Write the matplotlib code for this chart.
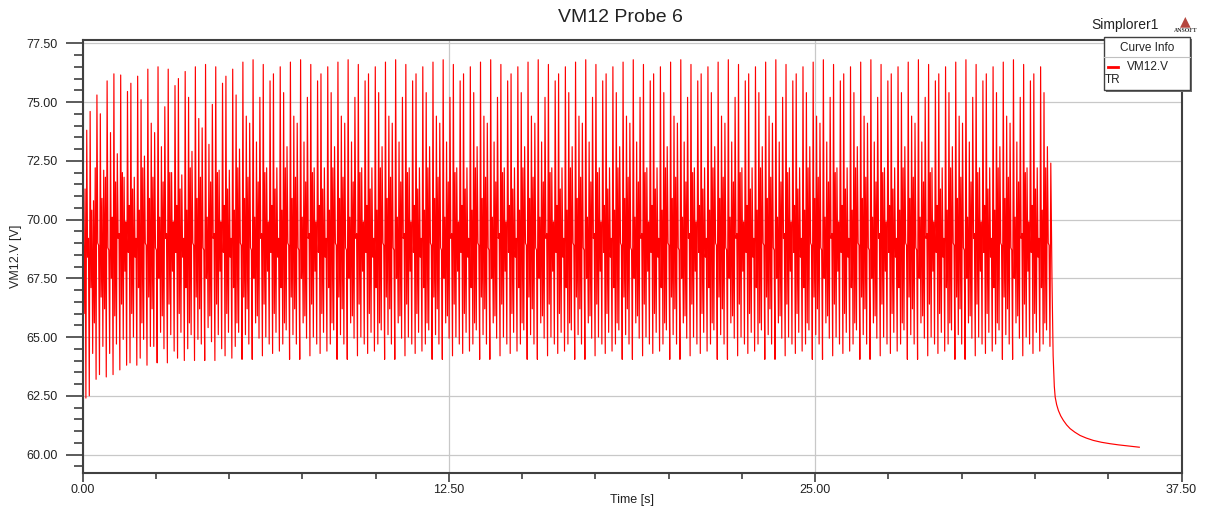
import numpy as np
import matplotlib
matplotlib.use("Agg")
import matplotlib.pyplot as plt
from matplotlib.patches import Rectangle
from matplotlib.lines import Line2D
from matplotlib.ticker import MultipleLocator, FormatStrFormatter

plt.rcParams["font.family"] = ["Liberation Sans", "DejaVu Sans"]

# ============================
# DATA
# ============================
# start-up: spike tops and the trough just before each spike [V]
EARLY_PEAKS = [69.3, 73.8, 74.6, 70.8, 75.3, 74.5, 72.1, 75.9, 73.7, 76.2,
               72.8, 76.15, 71.8, 75.45, 75.8, 71.8, 76.1, 75.1, 72.7, 76.4,
               74.1, 73.7, 76.5, 73.1, 74.8, 76.4, 72.0, 75.7, 76.0, 71.9,
               76.3, 75.2, 72.9, 76.5, 74.3, 73.9, 76.6, 73.2, 74.9, 76.5,
               72.1, 75.8, 76.1, 72.1, 76.4, 75.3, 73.0]
EARLY_TROUGHS = [60.0, 62.4, 62.5, 64.3, 63.2, 63.4, 64.6, 63.3, 64.3, 63.4,
                 64.7, 63.6, 64.9, 63.8, 63.9, 65.0, 63.8, 64.1, 64.9, 63.8,
                 64.6, 64.6, 63.9, 65.2, 64.5, 63.9, 65.1, 64.4, 64.1, 65.2,
                 64.0, 64.5, 65.1, 64.0, 64.9, 64.7, 64.0, 65.4, 64.8, 64.0,
                 65.1, 64.5, 64.2, 65.2, 64.1, 64.6, 65.2]

# steady state: one beat of the ripple (14 spikes, ~1.63 s), it repeats
BEAT_PEAKS = [76.7, 74.4, 74.1, 76.8, 73.3, 75.2, 76.6,
              72.2, 75.9, 76.2, 72.2, 76.5, 75.4, 73.1]
BEAT_TROUGHS = [64.05, 65.1, 64.7, 64.05, 65.6, 64.95, 64.2,
                65.0, 64.7, 64.3, 65.2, 64.4, 64.7, 65.3]
# small wiggle after each spike (dip, then rebound) that fills the band
BEAT_DIPS = [66.0, 68.4, 67.1, 65.6, 69.0, 66.7, 66.2,
             68.8, 67.5, 65.9, 69.2, 66.4, 67.8, 68.6]
BEAT_BUMPS = [71.3, 69.2, 70.4, 72.2, 68.9, 70.9, 71.8,
              68.7, 70.1, 71.6, 69.4, 72.0, 69.9, 70.6]
N_BEATS = 17

LAST_TROUGH = 64.6
LAST_PEAK = 72.4
T_START = 0.0
T_LAST_PEAK = 33.04

# switch-off decay
DECAY_T = [33.08, 33.12, 33.16, 33.19, 33.24, 33.30, 33.38, 33.47, 33.58,
           33.70, 33.86, 34.04, 34.25, 34.49, 34.77, 35.06, 35.35, 35.63, 36.06]
DECAY_V = [67.5, 64.2, 62.9, 62.44, 62.12, 61.87, 61.64, 61.45, 61.26,
           61.1, 60.95, 60.81, 60.70, 60.6, 60.52, 60.46, 60.41, 60.37, 60.31]

W, H = 1211, 509


def fx(px):
    return px / W


def fy(py):
    return 1 - py / H


# ============================
# SERIES
# ============================
peaks = EARLY_PEAKS + BEAT_PEAKS * N_BEATS + [LAST_PEAK]
troughs = EARLY_TROUGHS + BEAT_TROUGHS * N_BEATS + [LAST_TROUGH]
n = len(peaks)
dips = np.resize(BEAT_DIPS, n)
bumps = np.resize(BEAT_BUMPS, n)

v = np.empty(4 * n)
v[0::4] = troughs
v[1::4] = peaks
v[2::4] = dips
v[3::4] = bumps
v = v[:-2]  # the last spike goes straight into the decay
t = np.linspace(T_START, T_LAST_PEAK, len(v))

t = np.concatenate([t, DECAY_T])
v = np.concatenate([v, DECAY_V])

# ============================
# FIGURE
# ============================
fig = plt.figure(figsize=(W / 100, H / 100), dpi=100)
ax = fig.add_axes([fx(82.5), fy(473.3), fx(1181.5) - fx(82.5), fy(40) - fy(473.3)])

ax.plot(t, v, color="#ff0000", lw=0.85)

ax.set_xlim(0, 37.5)
ax.set_ylim(59.2, 77.64)
ax.xaxis.set_major_locator(MultipleLocator(12.5))
ax.xaxis.set_minor_locator(MultipleLocator(2.5))
ax.yaxis.set_major_locator(MultipleLocator(2.5))
ax.yaxis.set_minor_locator(MultipleLocator(0.5))
ax.xaxis.set_major_formatter(FormatStrFormatter("%.2f"))
ax.yaxis.set_major_formatter(FormatStrFormatter("%.2f"))

ax.grid(True, which="major", color="#c8c8c8", lw=0.9)
ax.set_axisbelow(True)

for s in ax.spines.values():
    s.set_color("#404040")
    s.set_linewidth(1.5)

ax.tick_params(axis="y", which="major", length=12.2, width=1.2, color="#404040",
               labelsize=9, pad=5.5, labelcolor="#222222")
ax.tick_params(axis="y", which="minor", length=6.5, width=1.2, color="#404040")
ax.tick_params(axis="x", which="major", length=6.5, width=1.2, color="#404040",
               labelsize=9, pad=1.5, labelcolor="#222222")
ax.tick_params(axis="x", which="minor", length=4, width=1.2, color="#404040")

# texts
fig.text(fx(620), fy(18), "VM12 Probe 6", fontsize=14, ha="center", va="center",
         color="#222222")
fig.text(fx(632), fy(500), "Time [s]", fontsize=9, ha="center", va="center",
         color="#222222")
fig.text(fx(16), fy(256), "VM12.V [V]", fontsize=9, ha="center", va="center",
         rotation=90, color="#222222")
fig.text(fx(1091), fy(25), "Simplorer1", fontsize=10, ha="left", va="center",
         color="#222222")

# ANSOFT mark
fig.text(fx(1185), fy(21), "\u25b2", fontsize=10, ha="center", va="center",
         color="#b5473f", family="DejaVu Sans")
fig.text(fx(1186), fy(31), "ANSOFT", fontsize=4.2, ha="center", va="center",
         color="#333333", family="Liberation Serif", weight="bold")

# Curve Info box
bx0, by0, bx1, by1 = 1104, 37, 1190, 90
fig.add_artist(Rectangle((fx(bx0 + 2), fy(by1 + 2)), fx(bx1) - fx(bx0),
                         fy(by0) - fy(by1), transform=fig.transFigure,
                         facecolor="#707070", edgecolor="none", zorder=5))
fig.add_artist(Rectangle((fx(bx0), fy(by1)), fx(bx1) - fx(bx0),
                         fy(by0) - fy(by1), transform=fig.transFigure,
                         facecolor="white", edgecolor="#404040", lw=1.0, zorder=6))
fig.add_artist(Line2D([fx(bx0), fx(bx1)], [fy(57), fy(57)], transform=fig.transFigure,
                      color="#c0c0c0", lw=0.8, zorder=7))
fig.text(fx(1147), fy(48), "Curve Info", fontsize=8.5, ha="center", va="center",
         color="#222222", zorder=8)
fig.add_artist(Line2D([fx(1108), fx(1118)], [fy(67), fy(67)], transform=fig.transFigure,
                      color="#ff0000", lw=2, zorder=8))
fig.text(fx(1127), fy(67), "VM12.V", fontsize=8.5, ha="left", va="center",
         color="#222222", zorder=8)
fig.text(fx(1105), fy(80), "TR", fontsize=8.5, ha="left", va="center",
         color="#222222", zorder=8)

fig.savefig("out.png", dpi=100)
